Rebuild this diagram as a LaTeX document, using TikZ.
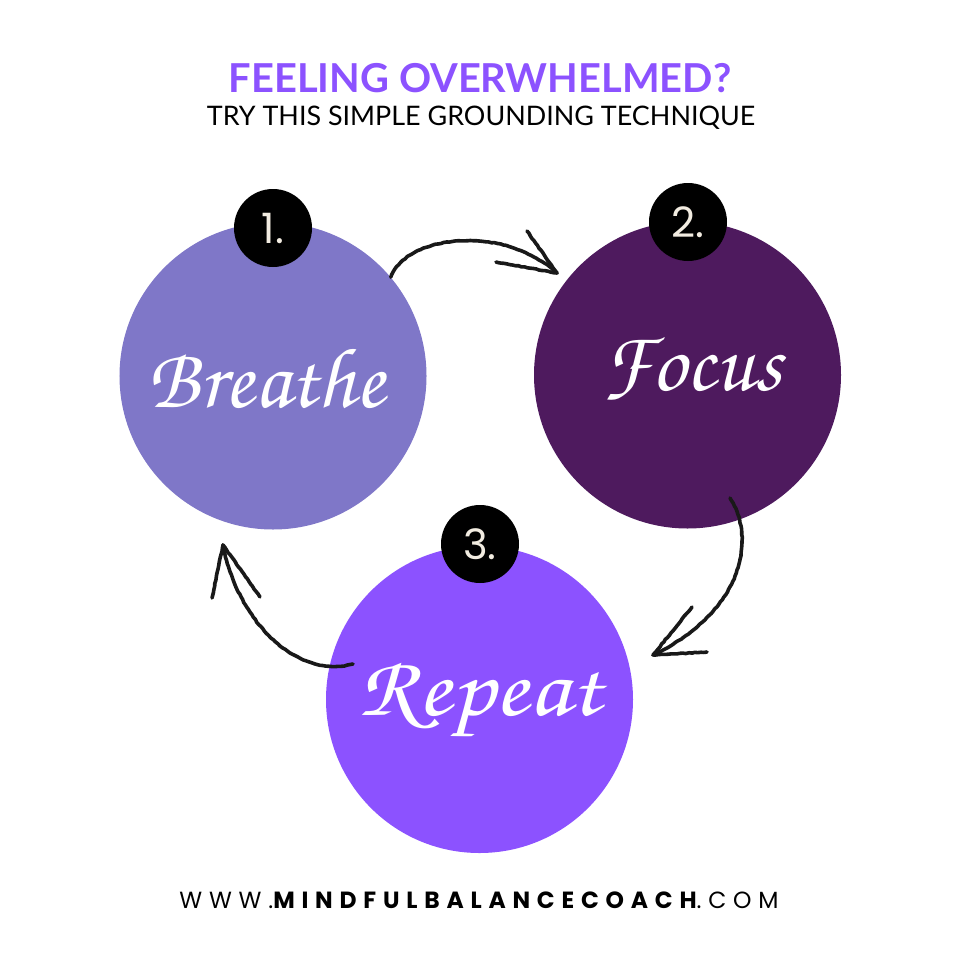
\documentclass[tikz,border=0pt]{standalone}
\usepackage[T1]{fontenc}
\usepackage{fontspec}
\setmainfont{Lato}
\newfontfamily\numfont{Poppins}
\newfontfamily\footfont{Poppins}[LetterSpace=29]
\usetikzlibrary{decorations.pathmorphing}
\definecolor{lav}{RGB}{127,119,200}
\definecolor{plum}{RGB}{78,26,94}
\definecolor{violet}{RGB}{140,82,255}
\definecolor{cream}{RGB}{242,236,225}
\newcommand{\brushfnt}{\fontencoding{T1}\fontfamily{pzc}\fontseries{mb}\fontshape{it}\selectfont}
\tikzset{
  bigcirc/.style={circle, inner sep=0pt, minimum size=307bp},
  numcirc/.style={circle, fill=black, inner sep=0pt, minimum size=78bp, text=cream, font=\numfont\fontsize{42}{42}\selectfont},
  scripttext/.style={text=white, font=\brushfnt\fontsize{86}{86}\selectfont, inner sep=0pt},
  sketch/.style={draw=black!90, line width=3.6bp, line cap=round, line join=round,
     decoration={random steps, segment length=3bp, amplitude=0.35bp}, decorate},
}
\begin{document}
\begin{tikzpicture}[x=1bp, y=-1bp]
\useasboundingbox (0,0) rectangle (960,960);
\fill[white] (0,0) rectangle (960,960);

% titles
\node[font=\bfseries\fontsize{40}{40}\selectfont, text=violet, inner sep=0pt] (title) at (480,78) {FEELING OVERWHELMED?};
\node[font=\fontsize{27}{27}\selectfont, text=black, inner sep=0pt] (subtitle) at (481,118) {TRY THIS SIMPLE GROUNDING TECHNIQUE};

% circles
\node[bigcirc, fill=lav] (b) at (273,376) {};
\node[bigcirc, fill=plum] (f) at (687.5,375) {};
\node[bigcirc, fill=violet] (r) at (479.5,699.5) {};

\node[scripttext] (bt) at (266,378) {Breathe};
\node[scripttext] (ft) at (692,370) {Focus};
\node[scripttext, xscale=1.15] (rt) at (480,700) {Repeat};

% number badges
\node[numcirc] (n1) at (273,228) {1.};
\node[numcirc] (n2) at (688,222) {2.};
\node[numcirc] (n3) at (480,544) {3.};

% arrows
\coordinate (a1s) at (b.40);
\coordinate (a1t) at (557,273);
\coordinate (a1u) at (527,231);
\coordinate (a1l) at (496,262);
\draw[sketch] (a1s) .. controls (405,237) and (500,222) .. (a1t);
\draw[sketch] (a1u) -- (a1t) -- (a1l);

\coordinate (a2s) at (730,498);
\coordinate (a2t) at (653,655);
\coordinate (a2u) at (692,607);
\coordinate (a2l) at (707,652);
\draw[sketch] (a2s) .. controls (757,540) and (742,612) .. (a2t);
\draw[sketch] (a2u) -- (a2t) -- (a2l);

\coordinate (a3s) at (353,664);
\coordinate (a3t) at (223,545);
\coordinate (a3u) at (212,598);
\coordinate (a3l) at (260,597);
\draw[sketch] (a3s) .. controls (290,680) and (235,612) .. (a3t);
\draw[sketch] (a3u) -- (a3t) -- (a3l);

% footer
\node[font=\footfont\fontsize{23.5}{23.5}\selectfont, inner sep=0pt] (url) at (479,900) {WWW.{\bfseries MINDFULBALANCECOACH}.COM};
\end{tikzpicture}
\end{document}
